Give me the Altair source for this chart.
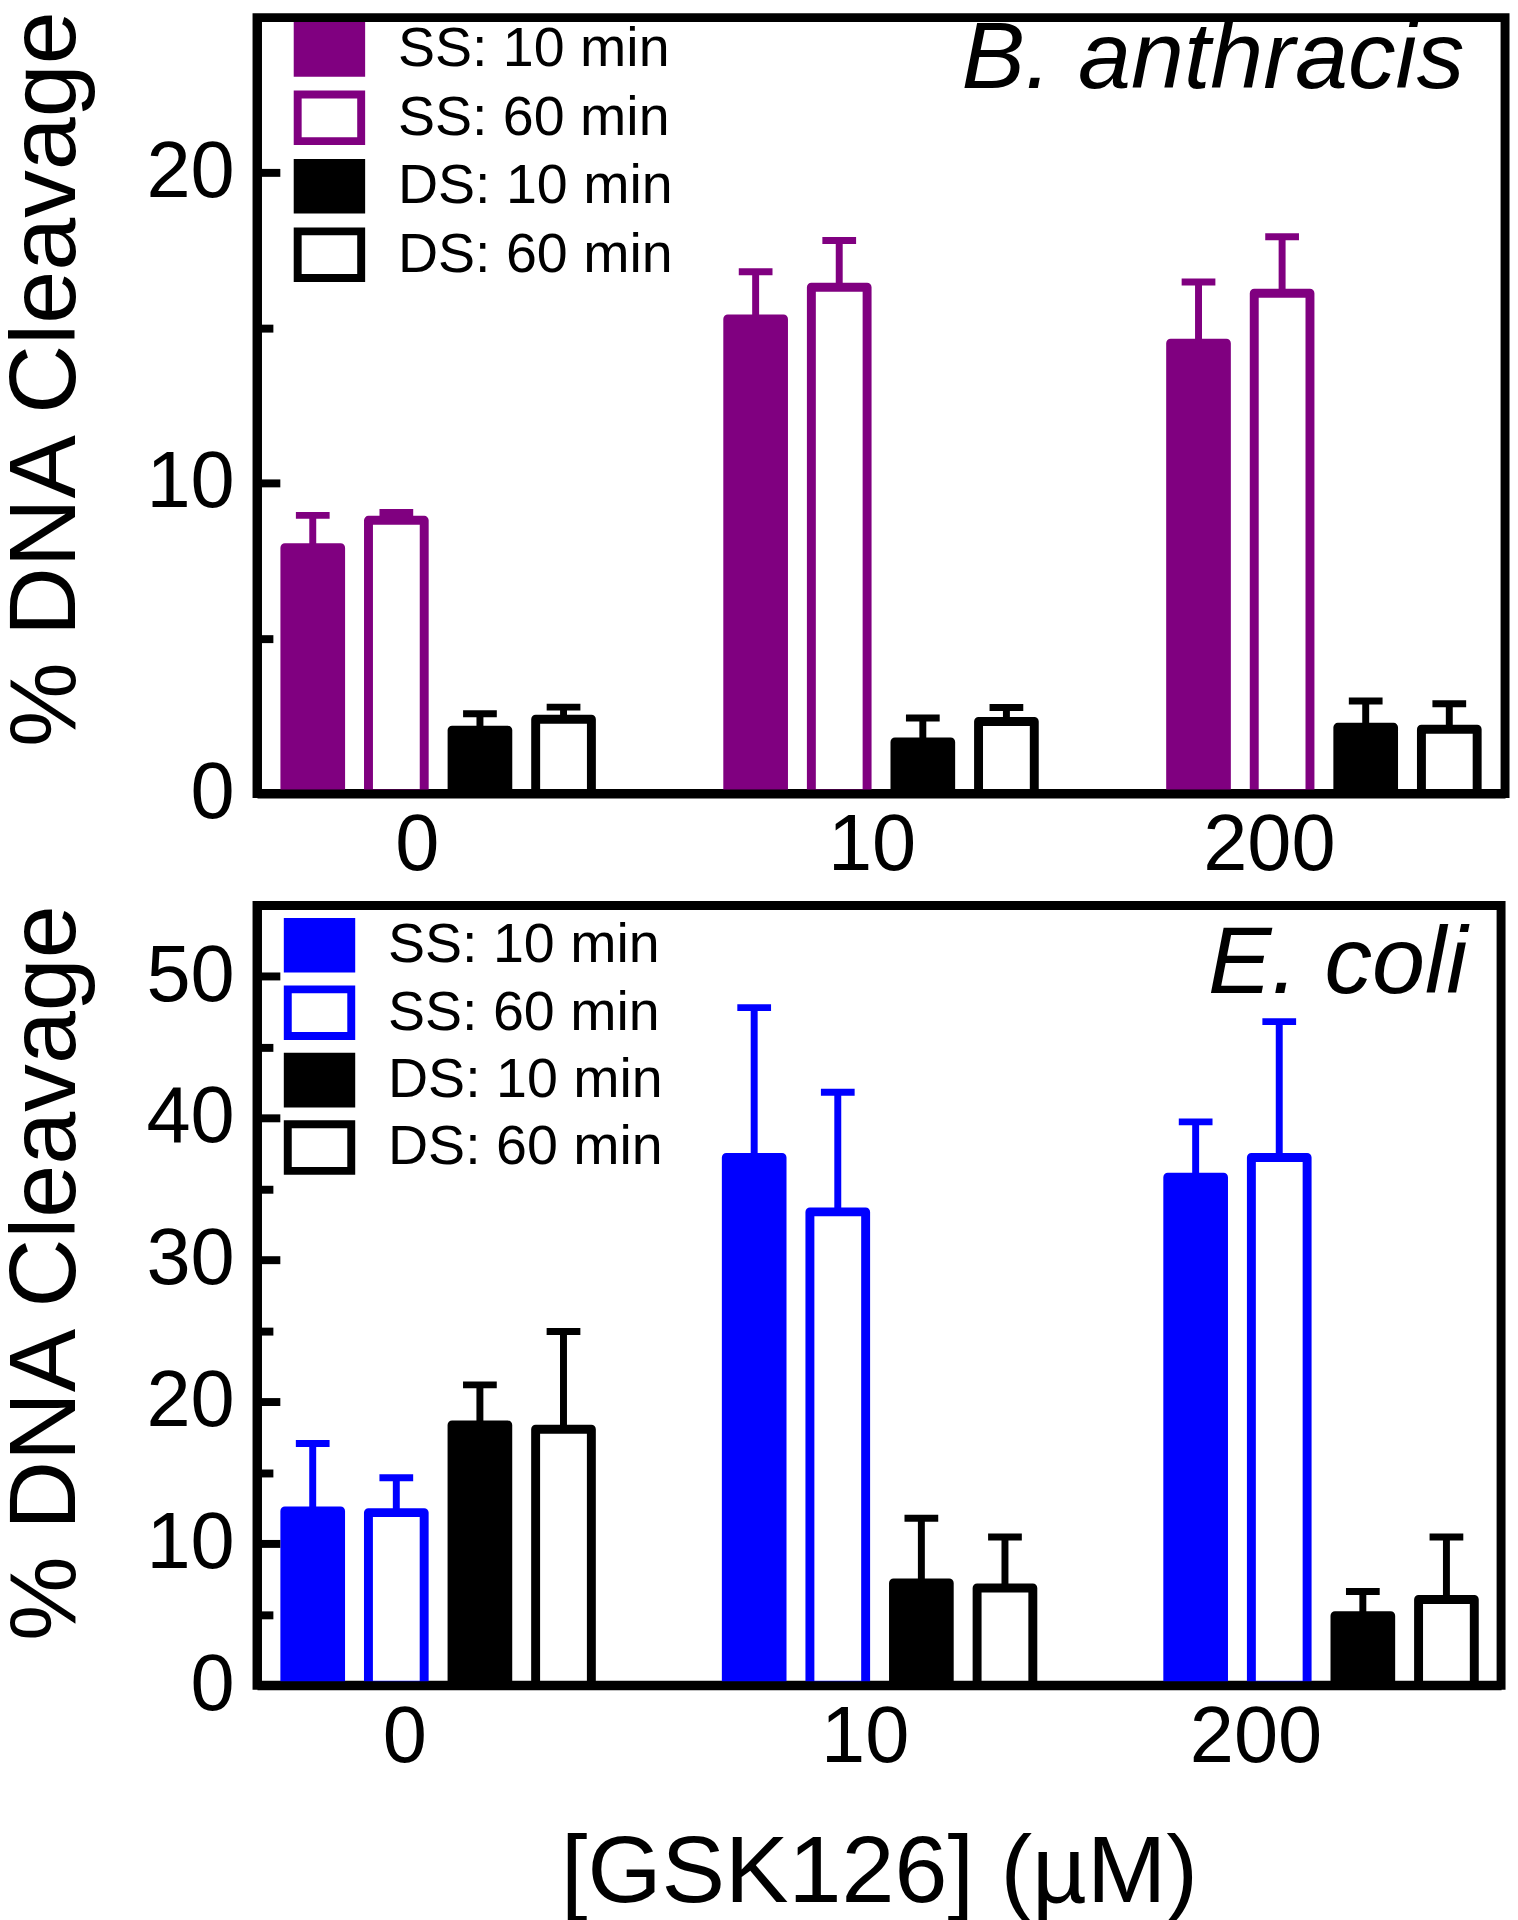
import altair as alt
import pandas as pd

FONT = "Liberation Sans"

conc = ["0", "10", "200"]
series = ["SS: 10 min", "SS: 60 min", "DS: 10 min", "DS: 60 min"]

# B. anthracis (% DNA cleavage, mean and upper error)
ba_ss10 = [7.92, 15.29, 14.51]
ba_ss10_err = [1.04, 1.52, 1.97]
ba_ss60 = [8.80, 16.31, 16.12]
ba_ss60_err = [0.25, 1.51, 1.82]
ba_ds10 = [2.04, 1.66, 2.13]
ba_ds10_err = [0.53, 0.77, 0.85]
ba_ds60 = [2.39, 2.32, 2.07]
ba_ds60_err = [0.39, 0.45, 0.82]

# E. coli
ec_ss10 = [12.30, 37.23, 35.84]
ec_ss10_err = [4.76, 10.57, 3.90]
ec_ss60 = [12.18, 33.39, 37.23]
ec_ss60_err = [2.46, 8.44, 9.58]
ec_ds10 = [18.36, 7.22, 4.91]
ec_ds10_err = [2.83, 4.56, 1.71]
ec_ds60 = [18.06, 6.86, 6.05]
ec_ds60_err = [6.89, 3.60, 4.41]

ba_ticks = [5, 10, 15, 20]
ba_labels = [0, 10, 20]
ec_ticks = [5, 10, 15, 20, 25, 30, 35, 40, 45, 50]
ec_labels = [0, 10, 20, 30, 40, 50]

PURPLE = "#800080"
BLUE = "#0000FF"


def build(means, errs):
    rows = []
    for s, vals, es in zip(series, means, errs):
        for c, v, e in zip(conc, vals, es):
            rows.append({"conc": c, "series": s, "value": v, "upper": v + e})
    return pd.DataFrame(rows)


def panel(df, color, ymax, label_vals, tick_vals, name, name_dx, name_dy,
          sym, leg_x, leg_y, leg_off, leg_rp, lab_off, x_title, ytitle_x,
          ytitle_y, width, height):
    base = alt.Chart(df)
    x_scale = alt.Scale(domain=conc, paddingInner=0.245, paddingOuter=0.0315)
    xo_scale = alt.Scale(domain=series, paddingInner=1 / 3, paddingOuter=1 / 6)
    y_scale = alt.Scale(domain=[0, ymax], nice=False, zero=True)
    fill_scale = alt.Scale(domain=series, range=[color, "white", "black", "white"])
    stroke_scale = alt.Scale(domain=series, range=[color, color, "black", "black"])
    err_scale = alt.Scale(domain=series, range=[color, color, "black", "black"])

    # symbol: 64 x 47 px rectangle regardless of nominal symbol size
    hx = 32.0 / (sym / 2.0)
    hy = 23.5 / (sym / 2.0)
    path = f"M{-hx:.3f},{-hy:.3f}H{hx:.3f}V{hy:.3f}H{-hx:.3f}Z"
    legend = alt.Legend(
        title=None, orient="none", legendX=leg_x, legendY=leg_y,
        symbolType=path, symbolSize=sym * sym,
        symbolStrokeWidth=8, labelFontSize=56, labelFont=FONT,
        labelColor="black", labelOffset=leg_off, rowPadding=leg_rp, padding=0,
        labelLimit=600,
    )

    label_offset = {
        "condition": [
            {"test": "datum.value === '200'", "value": lab_off[2]},
            {"test": "datum.value === '10'", "value": lab_off[1]},
        ],
        "value": lab_off[0],
    }
    xkw = dict(
        labelAngle=0, labelFontSize=80, labelFont=FONT, labelColor="black",
        labelPadding=14, ticks=False, tickSize=0, domain=True, domainWidth=9,
        domainColor="black", grid=False, zindex=1, labelOffset=label_offset,
    )
    if x_title:
        x_axis = alt.Axis(
            title=x_title, titleFontSize=96, titleFont=FONT,
            titleFontWeight="normal", titleColor="black", titleY=218,
            titleBaseline="alphabetic", **xkw,
        )
    else:
        x_axis = alt.Axis(title=None, **xkw)

    y_axis = alt.Axis(
        values=label_vals, ticks=False, tickSize=0, labelPadding=23,
        labelFontSize=80, labelFont=FONT, labelColor="black", domain=True,
        domainWidth=9, domainColor="black", grid=False, zindex=1,
        title="% DNA Cleavage", titleFontSize=96, titleFont=FONT,
        titleFontWeight="normal", titleColor="black", titleAngle=270,
        titleAlign="center", titleBaseline="alphabetic", titleX=ytitle_x,
        titleY=ytitle_y,
    )
    # inward-pointing ticks: a right-oriented axis moved onto the left edge
    tick_axis = alt.Axis(
        orient="right", offset=-width, values=tick_vals, labels=False,
        domain=False, grid=False, ticks=True, title=None, tickColor="black",
        tickWidth=8, zindex=1,
        tickSize={"condition": {"test": "datum.value % 10 === 0", "value": 23},
                  "value": 16},
    )

    x_enc = alt.X("conc:N", sort=conc, scale=x_scale, axis=x_axis)
    xo_enc = alt.XOffset("series:N", sort=series, scale=xo_scale)

    bars = base.mark_bar(strokeWidth=9, strokeJoin="round").encode(
        x=x_enc,
        xOffset=xo_enc,
        y=alt.Y("value:Q", scale=y_scale, axis=y_axis),
        fill=alt.Fill("series:N", sort=series, scale=fill_scale, legend=legend),
        stroke=alt.Stroke("series:N", sort=series, scale=stroke_scale, legend=legend),
    )
    rules = base.mark_rule(strokeWidth=7).encode(
        x=x_enc,
        xOffset=xo_enc,
        y=alt.Y("value:Q", scale=y_scale, axis=tick_axis),
        y2="upper:Q",
        color=alt.Color("series:N", sort=series, scale=err_scale, legend=None),
    )
    caps = base.mark_tick(thickness=7, size=34, filled=True, opacity=1).encode(
        x=x_enc,
        xOffset=xo_enc,
        y=alt.Y("upper:Q", scale=y_scale, axis=None),
        color=alt.Color("series:N", sort=series, scale=err_scale, legend=None),
    )
    label = alt.Chart(pd.DataFrame({"name": [name]})).mark_text(
        align="right", baseline="alphabetic", fontSize=96, fontStyle="italic",
        font=FONT, color="black", dx=name_dx, dy=name_dy,
    ).encode(x=alt.value("width"), y=alt.value(0), text="name:N")

    return (
        alt.layer(bars, rules, caps, label)
        .resolve_scale(y="shared")
        .resolve_axis(y="independent")
        .properties(width=width, height=height)
    )


top = panel(
    build([ba_ss10, ba_ss60, ba_ds10, ba_ds60],
          [ba_ss10_err, ba_ss60_err, ba_ds10_err, ba_ds60_err]),
    PURPLE, 25, ba_labels, ba_ticks, "B. anthracis", -41, 71,
    50, 44, 3, 40, -14, (-21, -9, -55), None, -184, 364, 1258, 782,
)
bottom = panel(
    build([ec_ss10, ec_ss60, ec_ds10, ec_ds60],
          [ec_ss10_err, ec_ss60_err, ec_ds10_err, ec_ds60_err]),
    BLUE, 55, ec_labels, ec_ticks, "E. coli", -34, 88,
    48, 35, 12, 41, -22, (-33, -14, -65), "[GSK126] (µM)", -184, 370, 1254, 786,
)

chart = (
    alt.vconcat(top, bottom, spacing=6)
    .resolve_scale(fill="independent", stroke="independent", color="independent")
    .properties(padding={"left": -15, "top": -12, "right": 0, "bottom": 0},
                background="white")
    .configure_view(stroke="black", strokeWidth=9)
)

chart.save("out.html", embed_options={"renderer": "svg", "actions": False})
